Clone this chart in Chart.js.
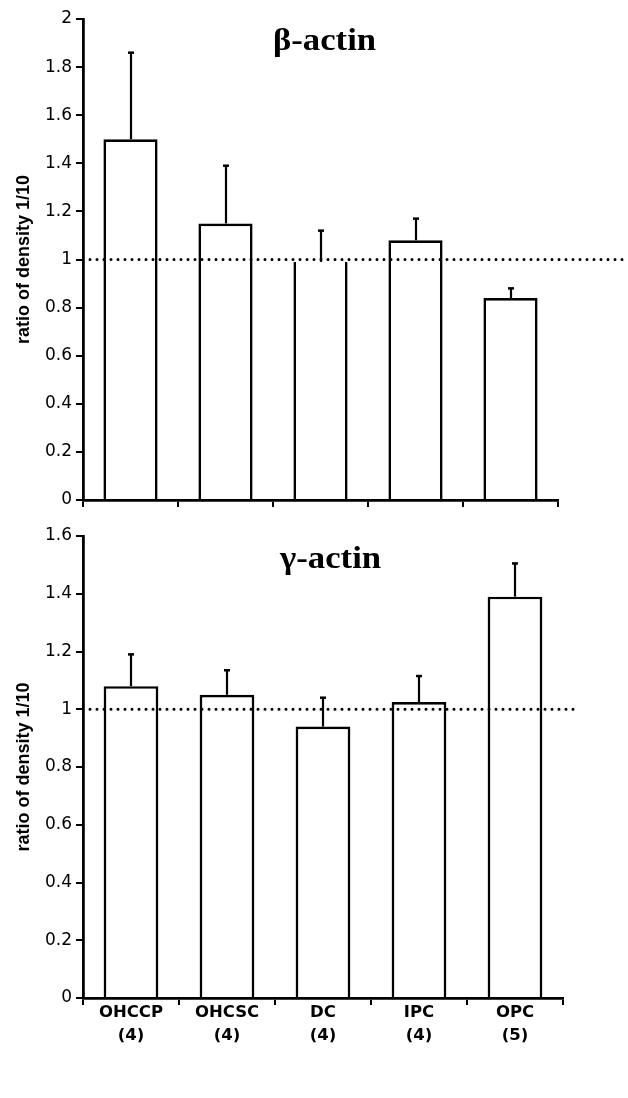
<!DOCTYPE html>
<html>
<head>
<meta charset="utf-8">
<script src="https://cdn.jsdelivr.net/npm/chart.js@4.4.1/dist/chart.umd.min.js"></script>
<style>
  html, body { margin: 0; padding: 0; background: #fff; }
  #wrap { position: relative; width: 628px; height: 1098px; background: #fff; }
  #c1 { position: absolute; left: 0; top: 0; }
  #c2 { position: absolute; left: 0; top: 520px; }
</style>
</head>
<body>
<div id="wrap">
  <canvas id="c1" width="628" height="520"></canvas>
  <canvas id="c2" width="628" height="578"></canvas>
</div>
<script>
// ---- data ----
const categories = ['OHCCP', 'OHCSC', 'DC', 'IPC', 'OPC'];
const sampleSizes = ['(4)', '(4)', '(4)', '(4)', '(5)'];

const betaValues = [1.50, 1.15, 0.99, 1.08, 0.84];
const betaErrors = [0.36, 0.24, 0.13, 0.09, 0.04];

const gammaValues = [1.08, 1.05, 0.94, 1.025, 1.39];
const gammaErrors = [0.11, 0.085, 0.10, 0.09, 0.115];

const betaTickLabels = ['0', '0.2', '0.4', '0.6', '0.8', '1', '1.2', '1.4', '1.6', '1.8', '2'];
const gammaTickLabels = ['0', '0.2', '0.4', '0.6', '0.8', '1', '1.2', '1.4', '1.6'];

const referenceLevel = 1;
const betaTitle = 'β-actin';
const gammaTitle = 'γ-actin';
const yAxisTitle = 'ratio of density 1/10';

// ---- plugins ----
const errorBarPlugin = {
  id: 'errorBars',
  afterDatasetsDraw(chart, args, opts) {
    const ctx = chart.ctx;
    const meta = chart.getDatasetMeta(0);
    const ys = chart.scales.y;
    const vals = chart.data.datasets[0].data;
    ctx.save();
    ctx.strokeStyle = '#000';
    meta.data.forEach((bar, i) => {
      const top = ys.getPixelForValue(vals[i] + opts.errors[i]);
      const base = ys.getPixelForValue(vals[i]);
      const x = Math.round(bar.x);
      ctx.lineWidth = 2.2;
      ctx.beginPath();
      ctx.moveTo(x, base);
      ctx.lineTo(x, top);
      ctx.stroke();
      ctx.lineWidth = 2.5;
      ctx.beginPath();
      ctx.moveTo(x - 3, top);
      ctx.lineTo(x + 3, top);
      ctx.stroke();
    });
    ctx.restore();
  }
};

const refLinePlugin = {
  id: 'refLine',
  afterDatasetsDraw(chart, args, opts) {
    const ctx = chart.ctx;
    const y = chart.scales.y.getPixelForValue(opts.value);
    ctx.save();
    ctx.strokeStyle = '#000';
    ctx.lineWidth = 3;
    ctx.lineCap = 'round';
    ctx.setLineDash([0, 7]);
    ctx.beginPath();
    ctx.moveTo(chart.chartArea.left + 7, y);
    ctx.lineTo(opts.endX, y);
    ctx.stroke();
    ctx.restore();
  }
};

const panelTitlePlugin = {
  id: 'panelTitle',
  afterDraw(chart, args, opts) {
    const ctx = chart.ctx;
    ctx.save();
    ctx.fillStyle = '#000';
    ctx.font = 'bold 31px "Liberation Serif", "Times New Roman", serif';
    ctx.textAlign = 'left';
    ctx.textBaseline = 'alphabetic';
    ctx.translate(opts.x, opts.y);
    ctx.scale(1.12, 1);
    ctx.fillText(opts.text, 0, 0);
    ctx.restore();
  }
};

Chart.defaults.font.family = '"DejaVu Sans", sans-serif';
Chart.defaults.color = '#000';

function makeChart(canvasId, values, errors, tickLabels, yMax, cfg) {
  return new Chart(document.getElementById(canvasId), {
    type: 'bar',
    data: {
      labels: categories.map((c, i) => [c, sampleSizes[i]]),
      datasets: [{
        data: values,
        backgroundColor: '#fff',
        borderColor: '#000',
        borderWidth: (ctx) => (cfg.openTopIndex === ctx.dataIndex
          ? { left: 2.7, right: 2.7, top: 0, bottom: 0 } : 2.7),
        borderSkipped: 'start',
        categoryPercentage: 1,
        barPercentage: 0.57
      }]
    },
    options: {
      responsive: false,
      animation: false,
      devicePixelRatio: 1,
      events: [],
      layout: { padding: { left: 0, top: cfg.padTop, right: cfg.padRight, bottom: 0 } },
      plugins: {
        legend: { display: false },
        tooltip: { enabled: false },
        errorBars: { errors: errors },
        refLine: { value: referenceLevel, endX: cfg.refEndX },
        panelTitle: { text: cfg.title, x: cfg.titleX, y: cfg.titleY }
      },
      scales: {
        x: {
          offset: true,
          border: { display: true, color: '#000', width: 2.8 },
          grid: { display: true, offset: true, drawOnChartArea: false, drawTicks: true, tickLength: 7, color: '#000', lineWidth: 2 },
          ticks: {
            display: cfg.showXLabels,
            padding: -4,
            maxRotation: 0,
            autoSkip: false,
            font: { family: '"DejaVu Sans", sans-serif', size: 16.5, weight: 'bold', lineHeight: 1.4 },
            color: '#000'
          },
          afterFit: (s) => { s.height = cfg.xHeight; }
        },
        y: {
          min: 0,
          max: yMax,
          border: { display: true, color: '#000', width: 2.8 },
          grid: { display: true, drawOnChartArea: false, drawTicks: true, tickLength: 7, color: '#000', lineWidth: 2 },
          ticks: {
            stepSize: 0.2,
            padding: 4,
            font: { family: '"DejaVu Sans", sans-serif', size: 17 },
            color: '#000',
            callback: (v, i) => tickLabels[i]
          },
          title: {
            display: true,
            text: yAxisTitle,
            color: '#000',
            font: { family: '"Liberation Sans", Arial, sans-serif', size: 18, weight: 'bold', lineHeight: 1.2 },
            padding: { top: 13, bottom: 0 }
          },
          afterFit: (s) => { s.width = 83; }
        }
      }
    },
    plugins: [errorBarPlugin, refLinePlugin, panelTitlePlugin]
  });
}

makeChart('c1', betaValues, betaErrors, betaTickLabels, 2, {
  padTop: 19, padRight: 70, xHeight: 20, showXLabels: false,
  refEndX: 625, title: betaTitle, titleX: 273, titleY: 50, openTopIndex: 2
});

makeChart('c2', gammaValues, gammaErrors, gammaTickLabels, 1.6, {
  padTop: 16, padRight: 65, xHeight: 100, showXLabels: true,
  refEndX: 580, title: gammaTitle, titleX: 280, titleY: 48, openTopIndex: -1
});
</script>
</body>
</html>
